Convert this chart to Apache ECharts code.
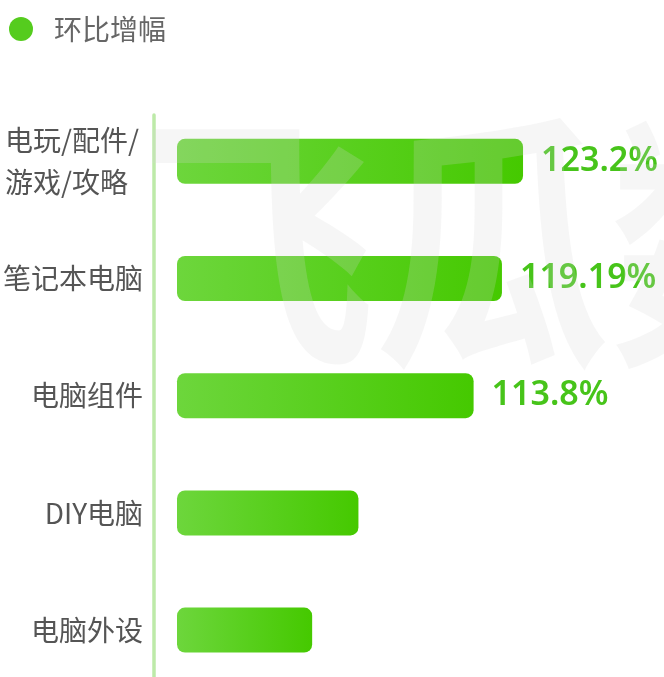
<!DOCTYPE html>
<html>
<head>
<meta charset="utf-8">
<script src="https://cdn.jsdelivr.net/npm/echarts@6/dist/echarts.min.js"></script>
<style>html,body{margin:0;padding:0;background:#fff;height:677px;overflow:hidden;}#c{width:664px;height:700px;}</style>
</head>
<body>
<div id="c"></div>
<script>
const seriesName = '环比增幅';
const categories = ['电玩/配件/游戏/攻略', '笔记本电脑', '电脑组件', 'DIY电脑', '电脑外设'];
const values = [123.2, 119.19, 113.8, 91.9, 83.1];
const valueLabels = ['123.2%', '119.19%', '113.8%', '', ''];

const chart = echarts.init(document.getElementById('c'), null, {renderer: 'canvas'});
const cjk = '"Noto Sans CJK SC", "Noto Sans", sans-serif';
const option = {
  backgroundColor: '#fff',
  animation: false,
  legend: {
    data: [seriesName],
    icon: 'circle',
    itemWidth: 24,
    itemHeight: 24,
    left: 9,
    top: 15,
    padding: 0,
    itemStyle: {color: '#55cc1e'},
    textStyle: {fontSize: 28, color: '#666', fontFamily: cjk, padding: [0, 0, 0, 16]}
  },
  grid: [
    {left: 175, right: 105.2, top: 102.7, height: 586},
    {left: 154, width: 20, top: 115, height: 580}
  ],
  xAxis: [
    {type: 'value', gridIndex: 0, min: 57.4, max: 130, show: false},
    {type: 'value', gridIndex: 1, show: false}
  ],
  yAxis: [
    {
      type: 'category', gridIndex: 0, inverse: true, data: categories,
      axisLine: {show: false}, axisTick: {show: false}, splitLine: {show: false},
      axisLabel: {
        margin: 34, fontSize: 28, color: '#555', fontFamily: cjk,
        formatter: function (v) {
          if (v.length > 6) {
            return '{w|' + v.slice(0, 6) + '}\n{w|' + v.slice(6) + '}';
          }
          return v;
        },
        rich: {w: {width: 138, align: 'left', fontSize: 28, lineHeight: 42, color: '#555', fontFamily: cjk}}
      }
    },
    {
      type: 'value', gridIndex: 1, position: 'left',
      axisLine: {show: true, lineStyle: {color: '#bdeaa8', width: 3.5}},
      axisTick: {show: false}, axisLabel: {show: false}, splitLine: {show: false}
    }
  ],
  graphic: [{
    type: 'text', left: 140, top: 108, z: 100, silent: true,
    scaleX: 0.94, scaleY: 1.08,
    style: {text: '飞瓜数据', fontSize: 250, fontWeight: 'bold',
      fontFamily: cjk, fill: 'rgba(215,215,215,0.22)'}
  }],
  series: [{
    name: seriesName,
    type: 'bar',
    xAxisIndex: 0, yAxisIndex: 0,
    barWidth: 45,
    data: values.map((v, i) => ({value: v, label: {show: valueLabels[i] !== ''}})),
    itemStyle: {
      borderRadius: 8,
      color: new echarts.graphic.LinearGradient(0, 0, 1, 0, [
        {offset: 0, color: '#6dd63c'}, {offset: 1, color: '#45c900'}
      ])
    },
    label: {
      position: 'right', distance: 18,
      formatter: p => valueLabels[p.dataIndex],
      fontSize: 34, fontWeight: 600, color: '#47c41a', fontFamily: '"Noto Sans", sans-serif'
    }
  }]
};
chart.setOption(option);
</script>
</body>
</html>
